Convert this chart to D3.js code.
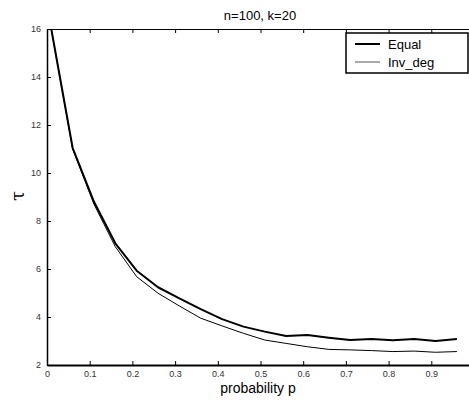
<!DOCTYPE html>
<html>
<head>
<meta charset="utf-8">
<script src="https://cdn.jsdelivr.net/npm/d3@7"></script>
<style>
  body { margin: 0; background: #fff; }
  text { font-family: "Liberation Sans", Arial, sans-serif; fill: #000; }
  .tick text { font-size: 9px; fill: #333; }
</style>
</head>
<body>
<div id="chart"></div>
<script>
// probability p on x, tau on y
const probs = [ 0.01, 0.06, 0.11, 0.16, 0.21, 0.26, 0.31, 0.36, 0.41, 0.46,
  0.51, 0.56, 0.61, 0.66, 0.71, 0.76, 0.81, 0.86, 0.91, 0.96 ];
const tauEqual = [ 16, 11.05, 8.8, 7.07, 5.93, 5.24, 4.78, 4.33, 3.91, 3.60,
  3.39, 3.21, 3.25, 3.14, 3.04, 3.08, 3.03, 3.08, 3.00, 3.08 ];
const tauInvDeg = [ 16, 11.0, 8.7, 6.93, 5.68, 4.99, 4.46, 3.95, 3.63, 3.32,
  3.04, 2.90, 2.76, 2.65, 2.63, 2.60, 2.56, 2.58, 2.53, 2.56 ];
const xTicks = [ 0, 0.1, 0.2, 0.3, 0.4, 0.5, 0.6, 0.7, 0.8, 0.9 ];
const yTicks = [ 2, 4, 6, 8, 10, 12, 14, 16 ];
const seriesNames = [ "Equal", "Inv_deg" ];

function drawChart () {
  let svgWidth = 469, svgHeight = 403;
  let margin = { top: 29, left: 47, bottom: 38, right: -5 }; // right edge cropped off
  let width = svgWidth - margin.left - margin.right;
  let height = svgHeight - margin.top - margin.bottom;

  let svg = d3.select( "#chart" ).append( "svg" )
    .attr( "width", svgWidth )
    .attr( "height", svgHeight );

  let g = svg.append( "g" )
    .attr( "transform", `translate(${margin.left}, ${margin.top})` );

  let xScale = d3.scaleLinear().domain( [ 0, 1 ] ).range( [ 0, width ] );
  let yScale = d3.scaleLinear().domain( [ 2, 16 ] ).range( [ height, 0 ] );

  // axes, matlab style: ticks pointing inward
  let bottom = g.append( "g" )
    .attr( "transform", `translate(0, ${height})` )
    .call( d3.axisBottom( xScale ).tickValues( xTicks ).tickFormat( d3.format( "" ) )
      .tickSizeInner( -4 ).tickSizeOuter( 0 ).tickPadding( 6 ) );
  bottom.select( ".domain" ).attr( "stroke-width", 2 );

  let top = g.append( "g" )
    .call( d3.axisTop( xScale ).tickValues( xTicks ).tickFormat( "" )
      .tickSizeInner( -4 ).tickSizeOuter( 0 ) );
  top.select( ".domain" ).attr( "stroke-width", 1.2 );

  let left = g.append( "g" )
    .call( d3.axisLeft( yScale ).tickValues( yTicks ).tickFormat( d3.format( "d" ) )
      .tickSizeInner( -4 ).tickSizeOuter( 0 ).tickPadding( 6 ) );
  left.select( ".domain" ).attr( "stroke-width", 1.5 );

  // lines
  let rows = [ tauEqual, tauInvDeg ];
  let widths = [ 2, 1 ];
  let line = d3.line()
    .x( ( d, i ) => xScale( probs[ i ] ) )
    .y( d => yScale( d ) );
  rows.forEach( ( vals, k ) => {
    g.append( "path" )
      .datum( vals )
      .attr( "fill", "none" )
      .attr( "stroke", "#000" )
      .attr( "stroke-width", widths[ k ] )
      .attr( "stroke-linejoin", "round" )
      .attr( "d", line );
  } );

  // title + labels
  svg.append( "text" )
    .attr( "x", 260 ).attr( "y", 20 )
    .attr( "text-anchor", "middle" )
    .style( "font-size", "13px" )
    .text( "n=100, k=20" );

  svg.append( "text" )
    .attr( "x", 258 ).attr( "y", 393 )
    .attr( "text-anchor", "middle" )
    .style( "font-size", "14px" )
    .text( "probability p" );

  svg.append( "text" )
    .attr( "transform", "translate(24, 196) rotate(-90)" )
    .attr( "text-anchor", "middle" )
    .style( "font-size", "18px" )
    .style( "font-family", "'DejaVu Serif', serif" )
    .text( "τ" );

  // legend
  let legend = svg.append( "g" ).attr( "transform", "translate(346, 33)" );
  legend.append( "rect" )
    .attr( "width", 122 ).attr( "height", 40 )
    .attr( "fill", "#fff" ).attr( "stroke", "#000" ).attr( "stroke-width", 1.5 );
  seriesNames.forEach( ( name, k ) => {
    let yy = 11 + k * 18;
    legend.append( "line" )
      .attr( "x1", 9 ).attr( "x2", 34 ).attr( "y1", yy ).attr( "y2", yy )
      .attr( "stroke", k === 0 ? "#000" : "#555" )
      .attr( "stroke-width", widths[ k ] );
    legend.append( "text" )
      .attr( "x", 42 ).attr( "y", yy + 5 )
      .style( "font-size", "13px" )
      .text( name );
  } );
}
drawChart();
</script>
</body>
</html>
